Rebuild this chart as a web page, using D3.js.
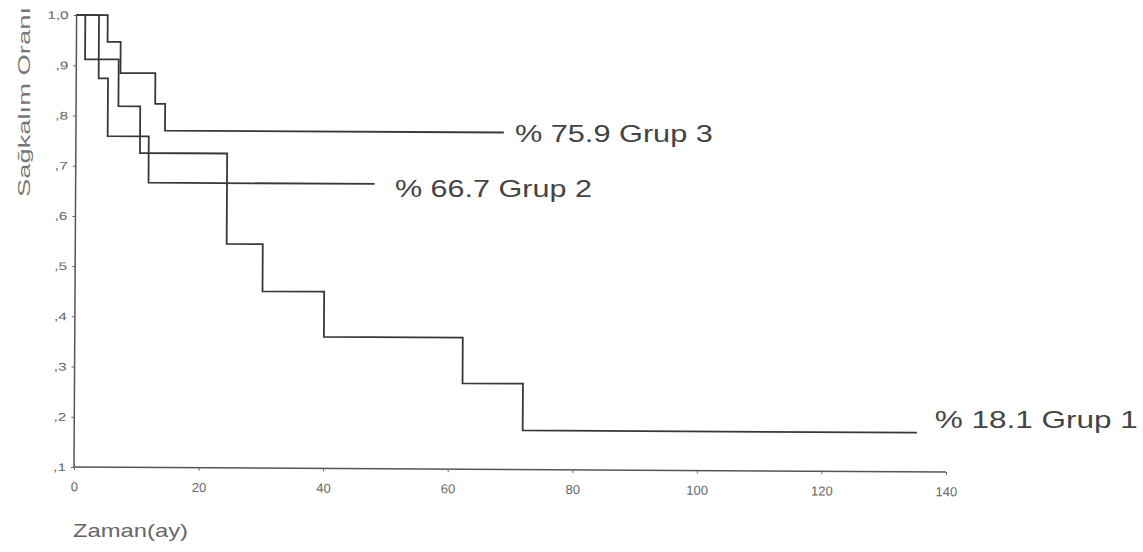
<!DOCTYPE html>
<html>
<head>
<meta charset="utf-8">
<script src="https://cdn.jsdelivr.net/npm/d3@7"></script>
<style>
  html, body { margin: 0; padding: 0; background: #fff; }
  svg { display: block; }
</style>
</head>
<body>
<svg id="chart" width="1143" height="552"></svg>
<script>
// ---- data ----
const groups = ["Grup 1", "Grup 2", "Grup 3"];
const grup1Times = [0, 1.4, 6.8, 10.3, 24.3, 30.1, 40, 62.3, 72, 135.3];
const grup1Surv  = [1.0, 0.912, 0.819, 0.726, 0.546, 0.452, 0.362, 0.271, 0.178, 0.178];
const grup2Times = [0, 3.6, 5.1, 11.7, 48];
const grup2Surv  = [1.0, 0.874, 0.759, 0.667, 0.667];
const grup3Times = [0, 5.0, 7.1, 12.7, 14.3, 68.7];
const grup3Surv  = [1.0, 0.947, 0.885, 0.824, 0.771, 0.771];
const endLabels  = ["% 18.1 Grup 1", "% 66.7 Grup 2", "% 75.9 Grup 3"];
const xTicks = [0, 20, 40, 60, 80, 100, 120, 140];
const yTicks = [0.1, 0.2, 0.3, 0.4, 0.5, 0.6, 0.7, 0.8, 0.9, 1.0];
const yTickLabels = [",1", ",2", ",3", ",4", ",5", ",6", ",7", ",8", ",9", "1,0"];
const xTitle = "Zaman(ay)";
const yTitle = "Sağkalım Oranı";

// ---- drawing ----
const svg = d3.select("#chart");
const x = d3.scaleLinear().domain([0, 140]).range([74, 946]);
const y = d3.scaleLinear().domain([0.1, 1.0]).range([467, 15]);
const font = "'Liberation Sans', Arial, sans-serif";

const plot = svg.append("g").attr("transform", "rotate(0.33, 74, 467)");

// axes
const xAxis = d3.axisBottom(x).tickValues(xTicks).tickSize(3).tickPadding(12).tickFormat(d3.format("d"));
const gx = plot.append("g").attr("transform", `translate(0,${y(0.1)})`).call(xAxis);
gx.select(".domain").attr("stroke", "#555").attr("stroke-width", 1.5).attr("d", `M${x(0)},0H${x(140)}`);
gx.selectAll(".tick line").attr("stroke", "#666");
gx.selectAll(".tick text").attr("font-family", font).attr("font-size", 13).attr("fill", "#666");

const yAxis = d3.axisLeft(y).tickValues(yTicks).tickSize(3).tickPadding(5)
  .tickFormat((d, i) => yTickLabels[i]);
const gy = plot.append("g").attr("transform", `translate(${x(0)},0)`).call(yAxis);
gy.select(".domain").attr("stroke", "#555").attr("stroke-width", 1.5).attr("d", `M0,${y(0.1)}V${y(1.0)}`);
gy.selectAll(".tick line").attr("stroke", "#666");
gy.selectAll(".tick text").attr("font-family", font).attr("font-size", 11).attr("fill", "#666")
  .each(function() {
    const len = this.getComputedTextLength();
    d3.select(this).attr("textLength", len * 1.4).attr("lengthAdjust", "spacingAndGlyphs");
  });

// curves
const series = [
  { times: grup1Times, surv: grup1Surv },
  { times: grup2Times, surv: grup2Surv },
  { times: grup3Times, surv: grup3Surv }
];
const line = d3.line().x(d => x(d[0])).y(d => y(d[1])).curve(d3.curveStepAfter);
series.forEach(s => {
  const pts = s.times.map((t, i) => [t, s.surv[i]]);
  plot.append("path").attr("d", line(pts)).attr("fill", "none")
    .attr("stroke", "#383838").attr("stroke-width", 1.8);
});

// end labels
const labelOffsets = [[18, 0], [22, 15], [13, 12]];
const labelWidths = [203, 197, 198];
series.forEach((s, i) => {
  const n = s.times.length - 1;
  svg.append("text")
    .attr("x", x(s.times[n]) + labelOffsets[i][0])
    .attr("y", y(s.surv[n]) + labelOffsets[i][1])
    .attr("font-family", font).attr("font-size", 24).attr("fill", "#444")
    .attr("textLength", labelWidths[i]).attr("lengthAdjust", "spacingAndGlyphs")
    .text(endLabels[i]);
});

// titles
svg.append("text").attr("x", 73).attr("y", 537)
  .attr("font-family", font).attr("font-size", 19).attr("fill", "#666")
  .attr("textLength", 115).attr("lengthAdjust", "spacingAndGlyphs")
  .text(xTitle);
svg.append("text").attr("transform", "translate(30,102) rotate(-90)")
  .attr("text-anchor", "middle")
  .attr("font-family", font).attr("font-size", 17).attr("fill", "#777")
  .attr("textLength", 190).attr("lengthAdjust", "spacingAndGlyphs")
  .text(yTitle);
</script>
</body>
</html>
